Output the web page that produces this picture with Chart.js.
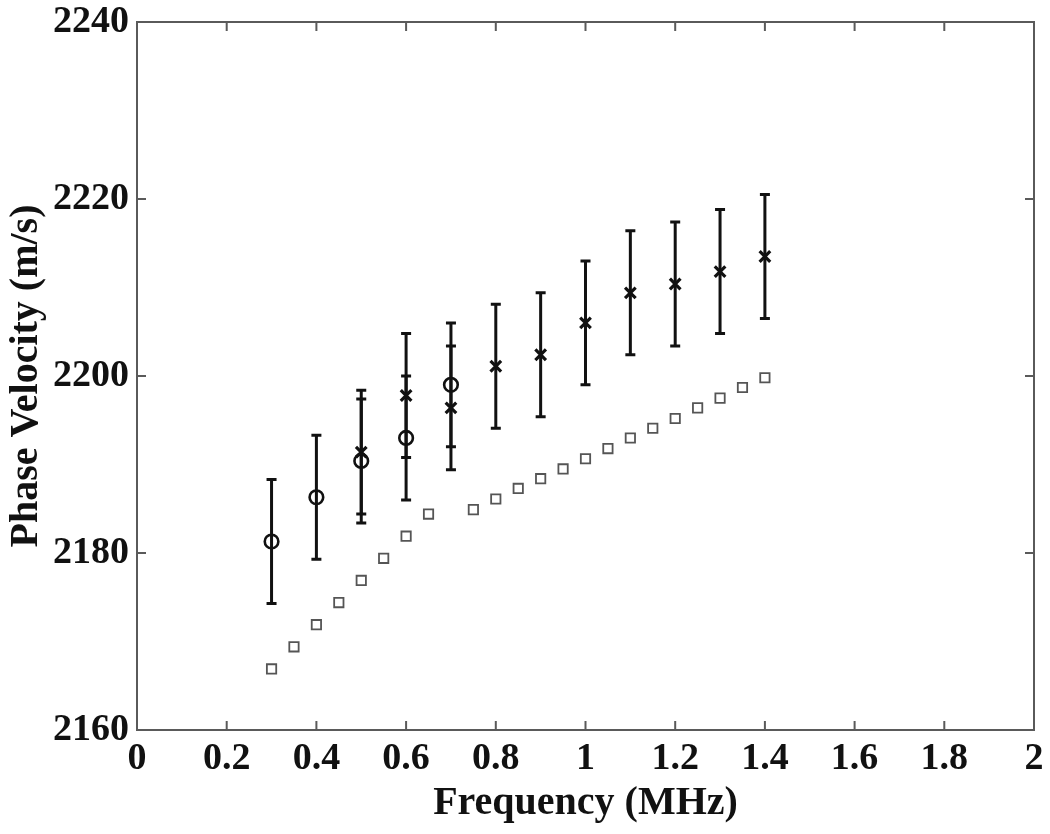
<!DOCTYPE html>
<html>
<head>
<meta charset="utf-8">
<script src="https://cdn.jsdelivr.net/npm/chart.js@4/dist/chart.umd.min.js"></script>
<style>
  html, body { margin: 0; padding: 0; background: #fff; }
  #wrap { width: 1050px; height: 834px; }
</style>
</head>
<body>
<div id="wrap"><canvas id="c" width="1050" height="834"></canvas></div>
<script>
// ---- Data ----
const freqCircle = [0.3, 0.4, 0.5, 0.6, 0.7];
const velCircle  = [2181.3, 2186.3, 2190.4, 2193.0, 2199.0];
const errCircle  = [7, 7, 7, 7, 7];

const freqCross = [0.5, 0.6, 0.7, 0.8, 0.9, 1.0, 1.1, 1.2, 1.3, 1.4];
const velCross  = [2191.4, 2197.8, 2196.4, 2201.1, 2202.4, 2206.0, 2209.4, 2210.4, 2211.8, 2213.5];
const errCross  = [7, 7, 7, 7, 7, 7, 7, 7, 7, 7];

const freqSquare = [0.3, 0.35, 0.4, 0.45, 0.5, 0.55, 0.6, 0.65, 0.75, 0.8, 0.85, 0.9, 0.95, 1.0, 1.05, 1.1, 1.15, 1.2, 1.25, 1.3, 1.35, 1.4];
const velSquare  = [2166.9, 2169.4, 2171.9, 2174.4, 2176.9, 2179.4, 2181.9, 2184.4, 2184.9, 2186.1, 2187.3, 2188.4, 2189.5, 2190.65, 2191.8, 2193.0, 2194.1, 2195.2, 2196.4, 2197.5, 2198.7, 2199.8];

const xTickValues = [0, 0.2, 0.4, 0.6, 0.8, 1.0, 1.2, 1.4, 1.6, 1.8, 2.0];
const xTickLabels = ['0', '0.2', '0.4', '0.6', '0.8', '1', '1.2', '1.4', '1.6', '1.8', '2'];
const yTickValues = [2160, 2180, 2200, 2220, 2240];
const yTickLabels = ['2160', '2180', '2200', '2220', '2240'];

const xTitle = 'Frequency (MHz)';
const yTitle = 'Phase Velocity (m/s)';

// ---- Helpers ----
const toPoints = (xs, ys) => xs.map((x, i) => ({ x: x, y: ys[i] }));
const errorSets = [
  { xs: freqCircle, ys: velCircle, es: errCircle },
  { xs: freqCross,  ys: velCross,  es: errCross }
];

const FONT = "'Liberation Serif', 'Times New Roman', serif";

const errorBarPlugin = {
  id: 'errorBars',
  beforeDatasetsDraw(chart) {
    const ctx = chart.ctx;
    const xs = chart.scales.x, ys = chart.scales.y;
    ctx.save();
    ctx.strokeStyle = '#111';
    ctx.lineWidth = 3;
    ctx.lineCap = 'butt';
    errorSets.forEach(set => {
      set.xs.forEach((f, i) => {
        const px = xs.getPixelForValue(f);
        const top = ys.getPixelForValue(set.ys[i] + set.es[i]);
        const bot = ys.getPixelForValue(set.ys[i] - set.es[i]);
        ctx.beginPath();
        ctx.moveTo(px, top); ctx.lineTo(px, bot);
        ctx.moveTo(px - 5, top); ctx.lineTo(px + 5, top);
        ctx.moveTo(px - 5, bot); ctx.lineTo(px + 5, bot);
        ctx.stroke();
      });
    });
    ctx.restore();
  }
};

const boxPlugin = {
  id: 'boxTicks',
  afterDraw(chart) {
    const ctx = chart.ctx;
    const a = chart.chartArea;
    const xs = chart.scales.x, ys = chart.scales.y;
    ctx.save();
    ctx.strokeStyle = '#5a5a5a';
    ctx.lineWidth = 2;
    ctx.strokeRect(a.left, a.top, a.right - a.left, a.bottom - a.top);
    const L = 9;
    ctx.beginPath();
    xTickValues.forEach(v => {
      const px = xs.getPixelForValue(v);
      if (px <= a.left + 1 || px >= a.right - 1) return;
      ctx.moveTo(px, a.bottom); ctx.lineTo(px, a.bottom - L);
      ctx.moveTo(px, a.top); ctx.lineTo(px, a.top + L);
    });
    yTickValues.forEach(v => {
      const py = ys.getPixelForValue(v);
      if (py <= a.top + 1 || py >= a.bottom - 1) return;
      ctx.moveTo(a.left, py); ctx.lineTo(a.left + L, py);
      ctx.moveTo(a.right, py); ctx.lineTo(a.right - L, py);
    });
    ctx.stroke();
    ctx.restore();
  }
};

new Chart(document.getElementById('c'), {
  type: 'scatter',
  data: {
    datasets: [
      {
        label: 'model',
        data: toPoints(freqSquare, velSquare),
        pointStyle: 'rect',
        pointRadius: 6.6,
        pointHoverRadius: 6.6,
        borderWidth: 1.8,
        borderColor: '#555',
        backgroundColor: '#fff'
      },
      {
        label: 'circles',
        data: toPoints(freqCircle, velCircle),
        pointStyle: 'circle',
        pointRadius: 6.8,
        pointHoverRadius: 6.8,
        borderWidth: 2.6,
        borderColor: '#111',
        backgroundColor: 'rgba(0,0,0,0)'
      },
      {
        label: 'crosses',
        data: toPoints(freqCross, velCross),
        pointStyle: 'crossRot',
        pointRadius: 7.5,
        pointHoverRadius: 7.5,
        borderWidth: 3.2,
        borderColor: '#111',
        backgroundColor: '#111'
      }
    ]
  },
  options: {
    responsive: false,
    animation: false,
    events: [],
    layout: { padding: { left: 0, right: 16, top: 22, bottom: 0 } },
    plugins: { legend: { display: false }, tooltip: { enabled: false } },
    scales: {
      x: {
        type: 'linear',
        min: 0, max: 2,
        afterBuildTicks(scale) { scale.ticks = xTickValues.map(v => ({ value: v })); },
        afterFit(scale) { scale.height = 104; scale.paddingLeft = 0; scale.paddingRight = 0; },
        grid: { display: false, drawTicks: false },
        border: { display: false },
        ticks: {
          autoSkip: false,
          maxRotation: 0,
          padding: 10,
          color: '#111',
          font: { family: FONT, size: 38, weight: 'bold', lineHeight: 1 },
          callback: (v) => { const i = xTickValues.findIndex(t => Math.abs(t - v) < 1e-9); return i >= 0 ? xTickLabels[i] : ''; }
        },
        title: {
          display: true,
          text: xTitle,
          color: '#111',
          padding: { top: 0, bottom: 10 },
          font: { family: FONT, size: 40, weight: 'bold', lineHeight: 1 }
        }
      },
      y: {
        type: 'linear',
        min: 2160, max: 2240,
        afterBuildTicks(scale) { scale.ticks = yTickValues.map(v => ({ value: v })); },
        afterFit(scale) { scale.width = 137; scale.paddingTop = 0; scale.paddingBottom = 0; },
        grid: { display: false, drawTicks: false },
        border: { display: false },
        ticks: {
          autoSkip: false,
          padding: 8,
          color: '#111',
          font: { family: FONT, size: 38, weight: 'bold', lineHeight: 1 },
          callback: (v) => { const i = yTickValues.indexOf(v); return i >= 0 ? yTickLabels[i] : ''; }
        },
        title: {
          display: true,
          text: yTitle,
          color: '#111',
          padding: { top: 7, bottom: 0 },
          font: { family: FONT, size: 40, weight: 'bold', lineHeight: 1 }
        }
      }
    }
  },
  plugins: [errorBarPlugin, boxPlugin]
});
</script>
</body>
</html>
